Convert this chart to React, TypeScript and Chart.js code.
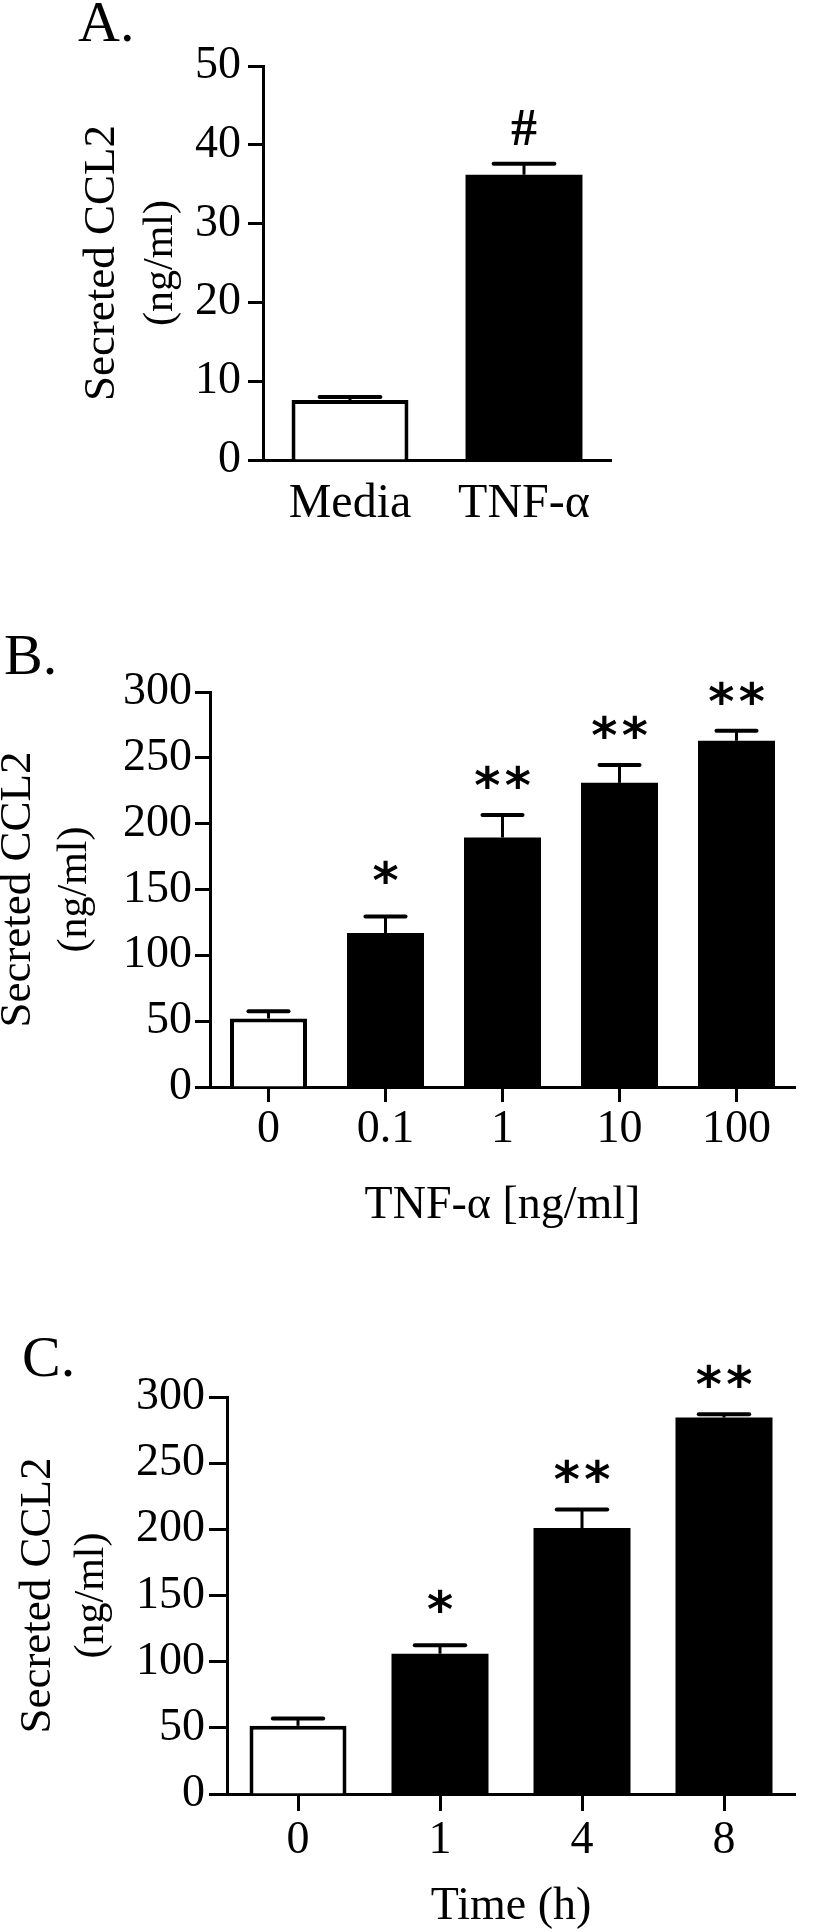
import React, { useEffect, useRef } from 'react';
import { Chart, registerables } from 'chart.js';

Chart.register(...registerables);

const SERIF = '"Liberation Serif", "Times New Roman", serif';

// ---- Panel A data ----
const categoriesA = ['Media', 'TNF-α'];
const valuesA = [7.6, 36.2];
const errorsA = [0.4, 1.4];
const marksA = ['', '#'];
const yTicksA = [0, 10, 20, 30, 40, 50];

// ---- Panel B data ----
const categoriesB = ['0', '0.1', '1', '10', '100'];
const valuesB = [52, 117, 189.5, 231, 263];
const errorsB = [5.5, 12.5, 17, 13.5, 7.5];
const marksB = ['', '*', '**', '**', '**'];
const yTicksB = [0, 50, 100, 150, 200, 250, 300];

// ---- Panel C data ----
const categoriesC = ['0', '1', '4', '8'];
const valuesC = [51.5, 106, 201, 284.5];
const errorsC = [5.5, 6.5, 14, 2.5];
const marksC = ['', '*', '**', '**'];
const yTicksC = [0, 50, 100, 150, 200, 250, 300];

const yTitleLines = ['Secreted CCL2', '(ng/ml)'];

const W = 816;
const X_H = 90;

type Panel = {
  top: number;
  height: number;
  letter: string;
  letterX: number;
  letterY: number;
  categories: string[];
  values: number[];
  errors: number[];
  marks: string[];
  yTicks: number[];
  area: { left: number; right: number; top: number; bottom: number };
  barFrac: number;
  yTickLen: number;
  yLabelPad: number;
  xTickLen: number;
  xLabelPad: number;
  xLabelSize: number;
  titleX: number[];
  xTitle: string;
  xTitleY: number;
};

const panels: Panel[] = [
  {
    top: 0, height: 560, letter: 'A.', letterX: 78, letterY: 41,
    categories: categoriesA, values: valuesA, errors: errorsA, marks: marksA, yTicks: yTicksA,
    area: { left: 263, right: 611, top: 66, bottom: 460 },
    barFrac: 0.672, yTickLen: 15, yLabelPad: 7, xTickLen: 0, xLabelPad: 16, xLabelSize: 48,
    titleX: [102, 161], xTitle: '', xTitleY: 0,
  },
  {
    top: 560, height: 680, letter: 'B.', letterX: 4, letterY: 114,
    categories: categoriesB, values: valuesB, errors: errorsB, marks: marksB, yTicks: yTicksB,
    area: { left: 210, right: 795, top: 132, bottom: 527 },
    barFrac: 0.658, yTickLen: 15, yLabelPad: 3, xTickLen: 15, xLabelPad: 0, xLabelSize: 46,
    titleX: [18, 75], xTitle: 'TNF-α [ng/ml]', xTitleY: 658,
  },
  {
    top: 1240, height: 692, letter: 'C.', letterX: 22, letterY: 136,
    categories: categoriesC, values: valuesC, errors: errorsC, marks: marksC, yTicks: yTicksC,
    area: { left: 227, right: 795, top: 157, bottom: 554 },
    barFrac: 0.683, yTickLen: 18, yLabelPad: 4, xTickLen: 17, xLabelPad: 2, xLabelSize: 46,
    titleX: [38, 92], xTitle: 'Time (h)', xTitleY: 679,
  },
];

function drawCentered(ctx: CanvasRenderingContext2D, text: string, x: number, cy: number) {
  ctx.textAlign = 'center';
  ctx.textBaseline = 'alphabetic';
  const m = ctx.measureText(text);
  const asc = m.actualBoundingBoxAscent;
  const desc = m.actualBoundingBoxDescent;
  ctx.fillText(text, x, cy + (asc - desc) / 2);
}

function makePlugin(p: Panel) {
  return {
    id: 'figureExtras',
    afterDatasetsDraw(chart: any) {
      const ctx: CanvasRenderingContext2D = chart.ctx;
      const yScale = chart.scales.y;
      const meta = chart.getDatasetMeta(0);
      ctx.save();
      ctx.strokeStyle = '#000';
      ctx.fillStyle = '#000';
      meta.data.forEach((bar: any, i: number) => {
        const v = p.values[i];
        const { x, y: yTop, width } = bar.getProps(['x', 'y', 'width'], true);
        const yE = yScale.getPixelForValue(v + p.errors[i]);
        const capHalf = width * 0.26;
        ctx.lineCap = 'butt';
        ctx.lineWidth = 3;
        ctx.beginPath();
        ctx.moveTo(x, yTop);
        ctx.lineTo(x, yE);
        ctx.stroke();
        ctx.lineCap = 'round';
        ctx.lineWidth = 4;
        ctx.beginPath();
        ctx.moveTo(x - capHalf, yE);
        ctx.lineTo(x + capHalf, yE);
        ctx.stroke();

        const mark = p.marks[i];
        if (mark) {
          if (mark[0] === '*') {
            const n = mark.length;
            const cy = yE - (n === 1 ? 44 : 38);
            ctx.font = 'bold 50px "DejaVu Sans", sans-serif';
            for (let k = 0; k < n; k++) {
              const sx = x + (k - (n - 1) / 2) * 30.5;
              drawCentered(ctx, '*', sx, cy);
            }
          } else {
            ctx.font = `bold 52px ${SERIF}`;
            drawCentered(ctx, mark, x, yE - 36);
          }
        }
      });
      ctx.restore();
    },
    afterDraw(chart: any) {
      const ctx: CanvasRenderingContext2D = chart.ctx;
      const area = chart.chartArea;
      ctx.save();
      ctx.fillStyle = '#000';
      // panel letter
      ctx.font = `58px ${SERIF}`;
      ctx.textAlign = 'left';
      ctx.textBaseline = 'alphabetic';
      ctx.fillText(p.letter, p.letterX, p.letterY);
      // y axis title
      const cy = (area.top + area.bottom) / 2;
      yTitleLines.forEach((line, i) => {
        ctx.save();
        ctx.translate(p.titleX[i], cy);
        ctx.rotate(-Math.PI / 2);
        ctx.font = `${i === 0 ? 45 : 42}px ${SERIF}`;
        ctx.textAlign = 'center';
        ctx.textBaseline = 'middle';
        ctx.fillText(line, 0, 0);
        ctx.restore();
      });
      // x axis title
      if (p.xTitle) {
        ctx.font = `46px ${SERIF}`;
        ctx.textAlign = 'center';
        ctx.textBaseline = 'alphabetic';
        ctx.fillText(p.xTitle, (area.left + area.right) / 2, p.xTitleY);
      }
      ctx.restore();
    },
  };
}

function PanelChart({ p }: { p: Panel }) {
  const ref = useRef<HTMLCanvasElement | null>(null);
  useEffect(() => {
    if (!ref.current) return;
    const a = p.area;
    const chart = new Chart(ref.current, {
      type: 'bar',
      data: {
        labels: p.categories,
        datasets: [
          {
            data: p.values,
            backgroundColor: p.values.map((_, i) => (i === 0 ? '#ffffff' : '#000000')),
            borderColor: '#000000',
            borderWidth: p.values.map((_, i) => (i === 0 ? 4 : 0)),
            borderSkipped: 'start',
            categoryPercentage: 1,
            barPercentage: p.barFrac,
          } as any,
        ],
      },
      options: {
        responsive: false,
        maintainAspectRatio: false,
        animation: false,
        devicePixelRatio: 1,
        layout: {
          padding: {
            left: 0,
            top: a.top,
            right: W - a.right,
            bottom: p.height - a.bottom - X_H,
          },
        },
        plugins: {
          legend: { display: false },
          tooltip: { enabled: false },
          title: { display: false },
        },
        scales: {
          x: {
            type: 'category',
            offset: true,
            grid: {
              display: p.xTickLen > 0,
              offset: false,
              drawOnChartArea: false,
              drawTicks: true,
              tickLength: p.xTickLen,
              tickWidth: 3,
              tickColor: '#000',
            },
            border: { display: true, color: '#000', width: 3 },
            ticks: {
              color: '#000',
              padding: p.xLabelPad,
              maxRotation: 0,
              autoSkip: false,
              font: { family: SERIF, size: p.xLabelSize, lineHeight: 1.2 },
            },
            afterFit: (s: any) => {
              s.height = X_H;
            },
          },
          y: {
            type: 'linear',
            min: p.yTicks[0],
            max: p.yTicks[p.yTicks.length - 1],
            afterBuildTicks: (s: any) => {
              s.ticks = p.yTicks.map((v) => ({ value: v }));
            },
            grid: {
              display: true,
              drawOnChartArea: false,
              drawTicks: true,
              tickLength: p.yTickLen,
              tickWidth: 3,
              tickColor: '#000',
            },
            border: { display: true, color: '#000', width: 3 },
            ticks: {
              color: '#000',
              padding: p.yLabelPad,
              font: { family: SERIF, size: 46 },
            },
            afterFit: (s: any) => {
              s.width = a.left;
            },
          },
        },
      } as any,
      plugins: [makePlugin(p) as any],
    });
    return () => chart.destroy();
  }, [p]);
  return (
    <canvas
      ref={ref}
      width={W}
      height={p.height}
      style={{ position: 'absolute', left: 0, top: p.top, width: W, height: p.height }}
    />
  );
}

export default function App() {
  return (
    <div
      style={{
        position: 'absolute',
        left: 0,
        top: 0,
        width: W,
        height: 1932,
        background: '#ffffff',
        overflow: 'hidden',
      }}
    >
      {panels.map((p) => (
        <PanelChart key={p.letter} p={p} />
      ))}
    </div>
  );
}
